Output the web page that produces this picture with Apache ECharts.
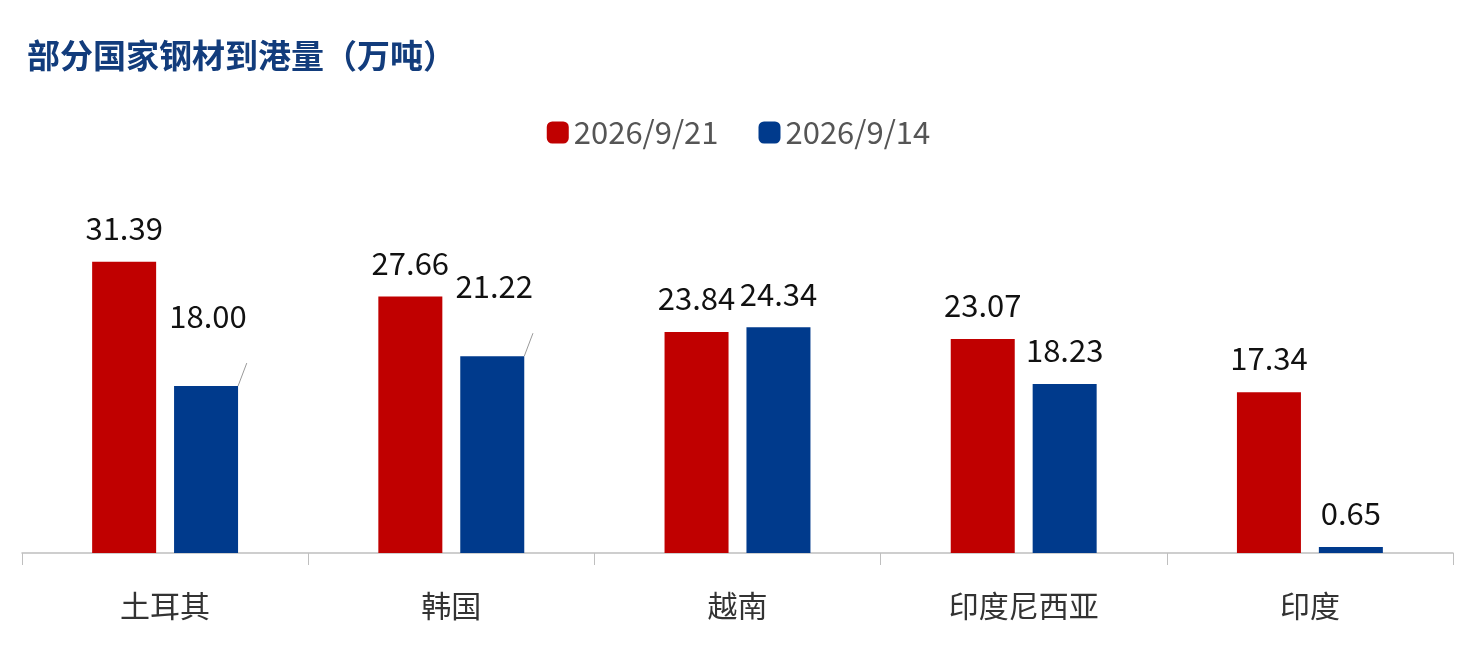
<!DOCTYPE html><html><head><meta charset="utf-8"><script src="https://cdn.jsdelivr.net/npm/echarts@6/dist/echarts.min.js"></script></head><body style="margin:0"><div id="c" style="width:1477px;height:649px"></div><script>
const categories=['土耳其','韩国','越南','印度尼西亚','印度'];
const s1Name='2026/9/21', s2Name='2026/9/14';
const s1=[31.39,27.66,23.84,23.07,17.34];
const s2=[18.00,21.22,24.34,18.23,0.65];
const s2Offsets=[[2,-36],[2,-36],[0,0],[0,0],[0,0]];
const f="'Noto Sans CJK SC',sans-serif";
const c=echarts.init(document.getElementById('c'));
c.setOption({
 title:{text:'部分国家钢材到港量（万吨）',left:22,top:34,textStyle:{fontFamily:f,fontSize:33,fontWeight:'bold',color:'#123C7C'}},
 legend:{top:112,left:'center',itemWidth:22,itemHeight:22,itemGap:40,itemStyle:{borderRadius:0},textStyle:{fontFamily:f,fontSize:31,color:'#555'},data:[s1Name,s2Name]},
 grid:{left:22,right:24,top:182,bottom:96},
 xAxis:{type:'category',data:categories,axisLine:{lineStyle:{color:'#BFBFBF',width:1.5}},axisTick:{show:true,length:12,lineStyle:{color:'#BFBFBF'}},axisLabel:{fontFamily:f,fontSize:30,color:'#333',margin:38}},
 yAxis:{type:'value',min:0,max:40,show:false,splitLine:{show:false}},
 series:[
  {name:s1Name,type:'bar',data:s1,barWidth:64,barGap:'28%',itemStyle:{color:'#C00000'},label:{show:true,position:'top',distance:18,fontFamily:f,fontSize:31,color:'#111'}},
  {name:s2Name,type:'bar',data:s2.map((v,i)=>({value:v,label:{offset:s2Offsets[i]},labelLine:{show:s2Offsets[i][1]!==0,lineStyle:{color:'#999'}}})),barWidth:64,itemStyle:{color:'#003A8C'},label:{show:true,position:'top',distance:18,fontFamily:f,fontSize:31,color:'#111',formatter:p=>p.value.toFixed(2)}}
 ]
});
</script></body></html>
